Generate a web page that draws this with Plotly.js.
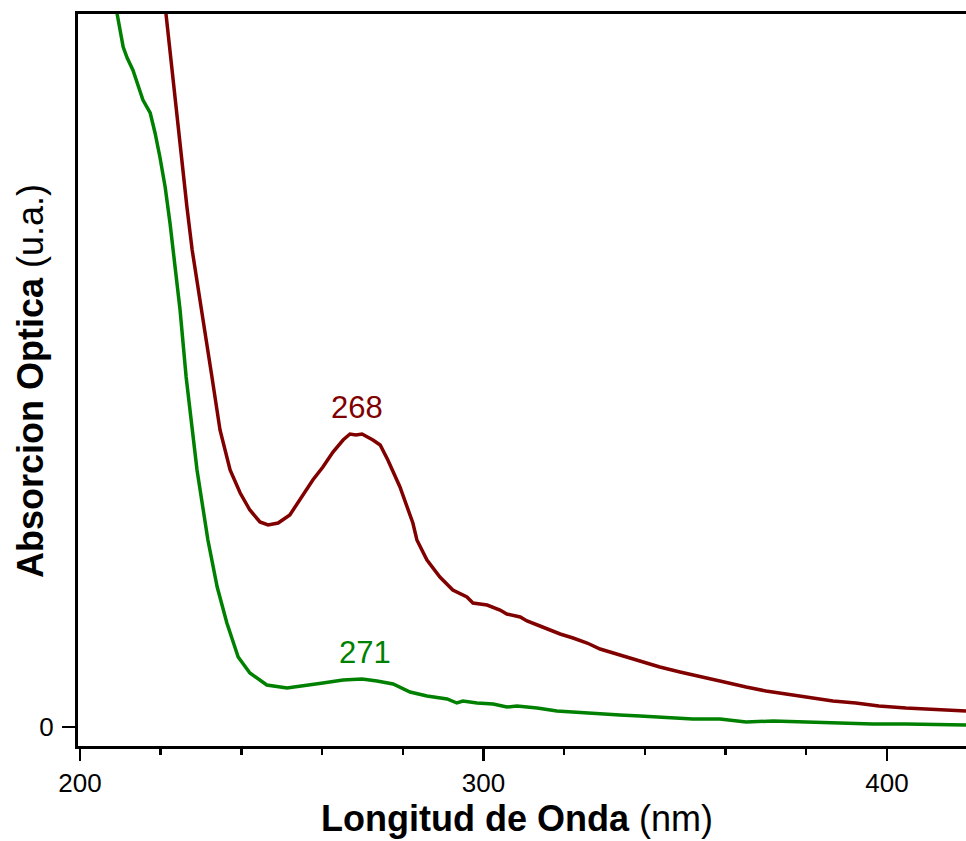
<!DOCTYPE html>
<html>
<head>
<meta charset="utf-8">
<script src="https://cdn.plot.ly/plotly-3.0.1.min.js"></script>
<style>html,body{margin:0;padding:0;background:#fff;}#chart{width:966px;height:841px;}</style>
</head>
<body>
<div id="chart"></div>
<script>
// Wavelength (nm) and optical absorption (arb. units)
const greenWavelength = [208.2,209.2,210.7,211.7,213.1,214.4,215.6,217.4,218.6,219.8,221.1,222.3,223.5,224.8,226.3,229.0,231.7,232.7,234.0,236.4,239.2,242.1,246.3,251.3,255.3,260.2,265.2,269.9,273.6,277.6,281.8,286.0,291.0,293.4,294.9,298.4,302.4,305.8,308.3,313.3,318.2,322.2,327.1,333.8,338.8,343.7,351.9,358.6,365.1,371.8,379.9,388.1,396.5,404.7,419.6];
const greenAbsorbance = [3.66,3.565,3.40,3.345,3.285,3.20,3.135,3.07,2.97,2.85,2.70,2.52,2.30,2.085,1.75,1.285,0.935,0.835,0.70,0.52,0.35,0.27,0.21,0.195,0.205,0.22,0.235,0.24,0.23,0.215,0.175,0.155,0.14,0.12,0.13,0.12,0.115,0.10,0.105,0.095,0.08,0.075,0.065,0.06,0.055,0.05,0.04,0.04,0.025,0.03,0.025,0.02,0.015,0.015,0.01];

const redWavelength = [220.8,221.3,222.8,224.0,225.3,226.5,227.8,229.0,230.5,232.7,234.7,237.2,239.7,242.1,244.6,246.6,249.1,252.0,254.5,257.7,260.2,262.7,265.2,266.9,268.4,269.9,272.6,274.4,276.3,279.3,282.5,283.5,286.0,289.2,292.4,295.9,297.4,300.9,304.1,305.8,309.1,310.8,314.0,319.0,322.2,325.7,328.9,333.8,338.8,343.7,348.7,353.7,358.6,365.1,370.0,375.0,379.9,386.6,392.3,398.0,404.7,411.4,419.6];
const redAbsorbance = [3.66,3.565,3.30,3.05,2.80,2.60,2.385,2.22,2.035,1.75,1.485,1.285,1.17,1.085,1.025,1.01,1.02,1.06,1.135,1.235,1.30,1.375,1.435,1.465,1.46,1.465,1.435,1.41,1.335,1.20,1.02,0.935,0.835,0.75,0.685,0.65,0.62,0.61,0.585,0.565,0.55,0.53,0.505,0.465,0.445,0.42,0.39,0.36,0.33,0.30,0.275,0.25,0.23,0.20,0.18,0.165,0.15,0.13,0.12,0.105,0.095,0.09,0.08];

const peakLabels = ['268', '271'];
const peakX = [268.6, 270.6];
const peakY = [1.6, 0.375];

const xTickVals = [200, 300, 400];
const xTickText = ['200', '300', '400'];
const yTickVals = [0];
const yTickText = ['0'];

const xTitle = '<b>Longitud de Onda</b> (nm)';
const yTitle = '<b>Absorcion Optica</b> (u.a.)';

const RED = '#800000';
const GREEN = '#008000';
const FONT = 'Liberation Sans, Arial, sans-serif';

const traces = [
  {x: redWavelength, y: redAbsorbance, type: 'scatter', mode: 'lines',
   line: {color: RED, width: 3.5}, hoverinfo: 'skip', showlegend: false},
  {x: greenWavelength, y: greenAbsorbance, type: 'scatter', mode: 'lines',
   line: {color: GREEN, width: 3.5}, hoverinfo: 'skip', showlegend: false}
];

const peakAnnotations = peakLabels.map((t, i) => ({
  x: peakX[i], y: peakY[i], xref: 'x', yref: 'y', text: t, showarrow: false,
  font: {family: FONT, size: 31, color: i === 0 ? RED : GREEN},
  xanchor: 'center', yanchor: 'middle'
}));

const titleAnnotations = [
  {text: xTitle, xref: 'paper', yref: 'paper', x: (517 - 78) / 888, y: -0.0985,
   xanchor: 'center', yanchor: 'middle', showarrow: false,
   font: {family: FONT, size: 36, color: '#000'}},
  {text: yTitle, xref: 'paper', yref: 'paper', x: (30 - 78) / 888, y: 0.4986,
   xanchor: 'center', yanchor: 'middle', showarrow: false, textangle: -90,
   font: {family: FONT, size: 36, color: '#000'}}
];

const layout = {
  width: 966, height: 841,
  margin: {l: 78, r: 0, t: 14, b: 95},
  paper_bgcolor: '#ffffff', plot_bgcolor: '#ffffff',
  font: {family: FONT, color: '#000'},
  showlegend: false,
  xaxis: {
    range: [199.5, 419.6],
    tickmode: 'array', tickvals: xTickVals, ticktext: xTickText,
    ticks: 'outside', ticklen: 12, tickwidth: 2.5, tickcolor: '#000',
    minor: {dtick: 20, tick0: 200, ticks: 'outside', ticklen: 6, tickwidth: 2.5, tickcolor: '#000', showgrid: false},
    showline: true, linewidth: 3, linecolor: '#000', mirror: true,
    showgrid: false, zeroline: false,
    tickfont: {family: FONT, size: 26, color: '#000'},
    ticklabelstandoff: 0
  },
  yaxis: {
    range: [-0.095, 3.565],
    tickmode: 'array', tickvals: yTickVals, ticktext: yTickText,
    ticks: 'outside', ticklen: 13, tickwidth: 2.5, tickcolor: '#000',
    showline: true, linewidth: 3, linecolor: '#000', mirror: false,
    showgrid: false, zeroline: false,
    tickfont: {family: FONT, size: 26, color: '#000'},
    ticklabelstandoff: 3
  },
  annotations: peakAnnotations.concat(titleAnnotations)
};

Plotly.newPlot('chart', traces, layout, {displayModeBar: false, staticPlot: true});
</script>
</body>
</html>
